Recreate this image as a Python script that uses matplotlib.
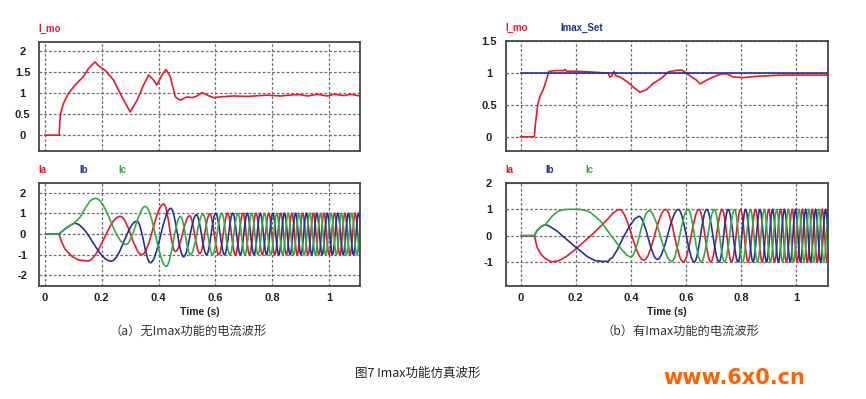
import matplotlib
matplotlib.use("Agg")
import matplotlib.pyplot as plt
from matplotlib.path import Path
from matplotlib.patches import PathPatch

# ---- data: (time s, value) ----
time_ticks = [0, 0.2, 0.4, 0.6, 0.8, 1.0]
time_labels = ["0", "0.2", "0.4", "0.6", "0.8", "1"]

# (a) without Imax: motor current magnitude
imo_a = [(0, 0), (0.05, 0), (0.052, 0.3), (0.055, 0.51), (0.065, 0.75), (0.082, 0.99),
         (0.106, 1.19), (0.135, 1.39), (0.153, 1.58), (0.176, 1.74), (0.194, 1.62),
         (0.212, 1.54), (0.241, 1.31), (0.271, 0.91), (0.3, 0.55), (0.324, 0.83),
         (0.347, 1.19), (0.365, 1.43), (0.382, 1.31), (0.394, 1.19), (0.412, 1.43),
         (0.426, 1.56), (0.441, 1.39), (0.459, 0.91), (0.476, 0.83), (0.5, 0.91),
         (0.518, 0.89), (0.535, 0.93), (0.553, 1.01), (0.571, 0.95), (0.594, 0.89),
         (0.618, 0.91), (0.665, 0.93), (0.712, 0.92), (0.759, 0.94), (0.782, 0.95),
         (0.829, 0.93), (0.876, 0.96), (0.9, 0.96), (0.924, 0.93), (0.959, 0.97),
         (0.994, 0.93), (1.018, 0.97), (1.053, 0.94), (1.076, 0.97), (1.109, 0.93)]

# (a) phase currents: start-up trace, then successive peaks/troughs
ia_a_start = [(0, 0), (0.049, 0), (0.059, -0.4), (0.071, -0.74), (0.094, -1.07),
              (0.118, -1.26), (0.15, -1.3)]
ia_a_peaks = [(0.265, 0.85), (0.341, -1.0), (0.418, 1.45), (0.459, -0.85), (0.509, 0.88),
              (0.545, -0.95), (0.58, 0.97), (0.612, -1), (0.643, 1), (0.67, -1), (0.697, 1),
              (0.72, -1), (0.743, 1), (0.765, -1), (0.788, 1), (0.809, -1), (0.83, 1),
              (0.85, -1), (0.869, 1), (0.888, -1), (0.907, 1), (0.926, -1), (0.945, 1),
              (0.964, -1), (0.982, 1), (1.0, -1), (1.019, 1), (1.038, -1), (1.056, 1),
              (1.074, -1), (1.092, 1), (1.11, -1)]
ib_a_start = [(0, 0), (0.049, 0), (0.06, 0.12), (0.071, 0.25), (0.088, 0.41), (0.103, 0.52)]
ib_a_peaks = [(0.233, -1.31), (0.324, 0.62), (0.371, -1.39), (0.443, 1.24), (0.488, -1.1),
              (0.533, 0.93), (0.569, -1.0), (0.601, 1), (0.632, -1), (0.661, 1), (0.688, -1),
              (0.712, 1), (0.736, -1), (0.758, 1), (0.78, -1), (0.802, 1), (0.823, -1),
              (0.843, 1), (0.863, -1), (0.882, 1), (0.901, -1), (0.92, 1), (0.939, -1),
              (0.957, 1), (0.976, -1), (0.994, 1), (1.012, -1), (1.031, 1), (1.05, -1),
              (1.068, 1), (1.086, -1), (1.104, 1), (1.122, -1)]
ic_a_start = [(0, 0), (0.049, 0), (0.06, 0.12), (0.071, 0.25), (0.088, 0.41), (0.103, 0.52),
              (0.124, 0.82), (0.141, 1.23), (0.159, 1.6), (0.168, 1.69), (0.178, 1.72)]
ic_a_peaks = [(0.285, -0.5), (0.353, 1.33), (0.427, -1.56), (0.477, 0.85), (0.512, -1.0),
              (0.556, 0.95), (0.59, -1), (0.622, 1), (0.651, -1), (0.679, 1), (0.704, -1),
              (0.728, 1), (0.75, -1), (0.773, 1), (0.795, -1), (0.816, 1), (0.837, -1),
              (0.856, 1), (0.875, -1), (0.894, 1), (0.913, -1), (0.932, 1), (0.952, -1),
              (0.97, 1), (0.988, -1), (1.007, 1), (1.026, -1), (1.044, 1), (1.062, -1),
              (1.08, 1), (1.098, -1), (1.116, 1)]

# (b) with Imax
imo_b = [(0, 0), (0.05, 0), (0.054, 0.21), (0.062, 0.5), (0.07, 0.63), (0.082, 0.74),
         (0.092, 0.87), (0.103, 1.03), (0.131, 1.04), (0.155, 1.04), (0.161, 1.06),
         (0.167, 1.03), (0.203, 1.03), (0.249, 1.02), (0.318, 1.0), (0.324, 0.94),
         (0.33, 0.95), (0.339, 1.03), (0.345, 0.96), (0.36, 0.94), (0.385, 0.87),
         (0.409, 0.78), (0.433, 0.7), (0.457, 0.74), (0.481, 0.84), (0.511, 0.92),
         (0.536, 1.02), (0.56, 1.04), (0.584, 1.05), (0.602, 1.0), (0.62, 0.94),
         (0.638, 0.89), (0.651, 0.83), (0.675, 0.89), (0.699, 0.94), (0.729, 0.99),
         (0.747, 0.99), (0.771, 0.94), (0.808, 0.93), (0.856, 0.95), (0.904, 0.96),
         (0.953, 0.97), (1.001, 0.97), (1.05, 0.97), (1.116, 0.97)]
imax_set_b = [(0, 1.0), (1.12, 1.0)]

ia_b_start = [(0, 0), (0.05, 0), (0.06, -0.45), (0.075, -0.72), (0.09, -0.88), (0.113, -1.0),
              (0.14, -0.95), (0.165, -0.8), (0.19, -0.6), (0.21, -0.42), (0.235, -0.18),
              (0.26, 0.05), (0.29, 0.36), (0.315, 0.62), (0.335, 0.86), (0.35, 0.97),
              (0.358, 1.0)]
ia_b_peaks = [(0.447, -0.93), (0.526, 1.0), (0.59, -1), (0.647, 1), (0.69, -1), (0.731, 1),
              (0.765, -1), (0.798, 1), (0.825, -1), (0.852, 1), (0.876, -1), (0.9, 1),
              (0.921, -1), (0.943, 1), (0.964, -1), (0.985, 1), (1.003, -1), (1.022, 1),
              (1.04, -1), (1.058, 1), (1.076, -1), (1.094, 1), (1.112, -1)]
ib_b_start = [(0, 0), (0.05, 0), (0.06, 0.2), (0.075, 0.35), (0.09, 0.43), (0.105, 0.36),
              (0.133, 0.17), (0.169, -0.16), (0.205, -0.48), (0.242, -0.8), (0.27, -0.95),
              (0.295, -0.98), (0.318, -0.98), (0.325, -0.88), (0.332, -0.85), (0.35, -0.55),
              (0.374, -0.03), (0.399, 0.43), (0.415, 0.65), (0.429, 0.74)]
ib_b_peaks = [(0.496, -0.9), (0.572, 1.0), (0.63, -1), (0.675, 1), (0.72, -1), (0.753, 1),
              (0.789, -1), (0.816, 1), (0.843, -1), (0.868, 1), (0.892, -1), (0.914, 1),
              (0.935, -1), (0.957, 1), (0.978, -1), (0.997, 1), (1.015, -1), (1.034, 1),
              (1.052, -1), (1.07, 1), (1.088, -1), (1.106, 1), (1.124, -1)]
ic_b_start = [(0, 0), (0.05, 0), (0.06, 0.2), (0.075, 0.35), (0.09, 0.43), (0.115, 0.75),
              (0.135, 0.93), (0.16, 1.0), (0.19, 1.01), (0.218, 1.0), (0.24, 0.95),
              (0.254, 0.88), (0.29, 0.56), (0.326, 0.04), (0.363, -0.48), (0.385, -0.74),
              (0.399, -0.82)]
ic_b_peaks = [(0.466, 0.95), (0.548, -0.98), (0.607, 1), (0.655, -1), (0.703, 1), (0.74, -1),
              (0.776, 1), (0.805, -1), (0.834, 1), (0.859, -1), (0.884, 1), (0.906, -1),
              (0.929, 1), (0.95, -1), (0.971, 1), (0.99, -1), (1.01, 1), (1.028, -1),
              (1.046, 1), (1.064, -1), (1.082, 1), (1.1, -1), (1.118, 1)]

RED = "#e81a2e"
BLUE = "#26309c"
GREEN = "#2fae3e"
W, H = 866, 399


def box(x0, y0, x1, y1):
    # pixel box (from top-left) -> figure fraction rect
    return [x0 / W, 1 - y1 / H, (x1 - x0) / W, (y1 - y0) / H]


def setup(ax, xlim, ylim, yticks, show_x):
    ax.set_xlim(*xlim)
    ax.set_ylim(*ylim)
    ax.set_xticks(time_ticks)
    ax.set_xticklabels(time_labels if show_x else [])
    ax.set_yticks(yticks)
    ax.set_yticklabels(["%g" % v for v in yticks])
    ax.set_axisbelow(True)
    ax.grid(True, color="#6e6e6e", linestyle=(0, (2.2, 1.6)), linewidth=0.9)
    ax.tick_params(length=0, labelsize=8, colors="#222222")
    ax.tick_params(axis="y", pad=12)
    ax.tick_params(axis="x", pad=5)
    plt.setp(ax.get_yticklabels(), ha="center", fontweight="bold")
    plt.setp(ax.get_xticklabels(), fontweight="bold")
    for s in ax.spines.values():
        s.set_color("#454545")
        s.set_linewidth(1.3)


def trace(ax, pts, color):
    ax.plot([p[0] for p in pts], [p[1] for p in pts], color=color, lw=1.2)


def wave(ax, start, peaks, color):
    # straight start-up trace, then smooth half-waves between peaks
    verts = list(start)
    codes = [Path.MOVETO] + [Path.LINETO] * (len(start) - 1)
    t0, v0 = start[-1]
    for t1, v1 in peaks:
        dt = t1 - t0
        verts += [(t0 + 0.36 * dt, v0), (t1 - 0.36 * dt, v1), (t1, v1)]
        codes += [Path.CURVE4] * 3
        t0, v0 = t1, v1
    ax.add_patch(PathPatch(Path(verts, codes), fill=False, edgecolor=color, lw=1.2))


plt.rcParams["font.family"] = ["Liberation Sans", "DejaVu Sans"]
fig = plt.figure(figsize=(W / 100, H / 100), dpi=100)

# ---- (a) ----
ax1 = fig.add_axes(box(39.3, 41.7, 360, 150.7))
setup(ax1, (-0.02, 1.109), (-0.37, 2.22), [0, 0.5, 1, 1.5, 2], False)
trace(ax1, imo_a, RED)

ax2 = fig.add_axes(box(39.3, 183.3, 360, 285.7))
setup(ax2, (-0.02, 1.109), (-2.5, 2.45), [-2, -1, 0, 1, 2], True)
wave(ax2, ia_a_start, ia_a_peaks, RED)
wave(ax2, ib_a_start, ib_a_peaks, BLUE)
wave(ax2, ic_a_start, ic_a_peaks, GREEN)
ax2.set_xlabel("Time (s)", fontsize=7.5, fontweight="bold", color="#222222", labelpad=3)

# ---- (b) ----
ax3 = fig.add_axes(box(505.7, 40.7, 828.3, 150.7))
setup(ax3, (-0.054, 1.116), (-0.22, 1.51), [0, 0.5, 1, 1.5], False)
trace(ax3, imo_b, RED)
trace(ax3, imax_set_b, BLUE)

ax4 = fig.add_axes(box(505.7, 183.3, 828.3, 286))
setup(ax4, (-0.054, 1.116), (-1.92, 2.0), [-1, 0, 1, 2], True)
wave(ax4, ia_b_start, ia_b_peaks, RED)
wave(ax4, ib_b_start, ib_b_peaks, BLUE)
wave(ax4, ic_b_start, ic_b_peaks, GREEN)
ax4.set_xlabel("Time (s)", fontsize=7.5, fontweight="bold", color="#222222", labelpad=3)

# series labels above the panels
def label(x, y, s, color):
    fig.text(x / W, 1 - y / H, s, color=color, fontsize=7, fontweight="bold",
             ha="left", va="center")

label(38, 29, "I_mo", RED)
label(38, 170, "Ia", RED)
label(79, 170, "Ib", BLUE)
label(118, 170, "Ic", GREEN)
label(505, 27.5, "I_mo", RED)
label(560.7, 27.5, "Imax_Set", BLUE)
label(505, 170, "Ia", RED)
label(545, 170, "Ib", BLUE)
label(585, 170, "Ic", GREEN)

cjk = ["Noto Sans CJK SC", "DejaVu Sans"]
fig.text(188 / W, 1 - 331.7 / H, "（a）无Imax功能的电流波形", family=cjk, fontsize=8.8,
         color="#333333", ha="center", va="center")
fig.text(680 / W, 1 - 331.7 / H, "（b）有Imax功能的电流波形", family=cjk, fontsize=8.8,
         color="#333333", ha="center", va="center")
fig.text(418 / W, 1 - 373 / H, "图7 Imax功能仿真波形", family=cjk, fontsize=9,
         color="#222222", ha="center", va="center")
fig.text(663 / W, 1 - 378 / H, "www.6x0.cn", family="DejaVu Sans", fontsize=15,
         fontweight="bold", color="#ff6200", ha="left", va="center")

fig.savefig("out.png", dpi=100)
